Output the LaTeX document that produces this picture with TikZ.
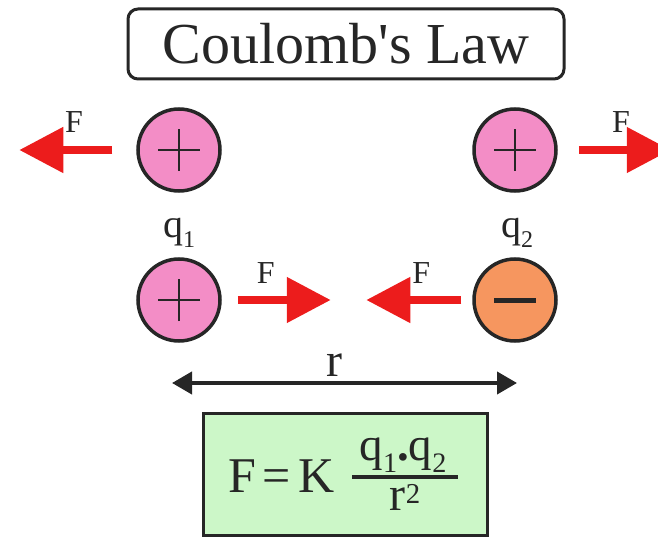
\documentclass[tikz,border=0pt]{standalone}
\usepackage{fontspec}
\setmainfont{Liberation Serif}
\newfontfamily\titlefont{Liberation Serif}[Ligatures=TeXOff]
\usepackage{graphicx}
\usepackage{xcolor}
\usepackage{tikz}
\usetikzlibrary{positioning,arrows.meta,calc}
\definecolor{chargepink}{HTML}{F38DC6}
\definecolor{chargeorange}{HTML}{F6965F}
\definecolor{forcered}{HTML}{EC1C1C}
\definecolor{formulagreen}{HTML}{CCF7C8}
\definecolor{inkgray}{HTML}{262626}
\newcommand{\lowsub}[1]{\raisebox{-0.26em}{\scalebox{0.6}{#1}}}
\newcommand{\lowsup}[1]{\raisebox{0.14em}{\scalebox{0.6}{#1}}}

\begin{document}
\begin{tikzpicture}[
    x=1pt, y=1pt,
    every node/.style={text=inkgray},
    charge/.style={circle, draw=inkgray, line width=3.5pt, minimum size=82pt, inner sep=0pt},
    poscharge/.style={charge, fill=chargepink,
        path picture={\draw[inkgray, line width=2pt]
            ([xshift=-21pt]path picture bounding box.center) -- ([xshift=21pt]path picture bounding box.center)
            ([yshift=-21pt]path picture bounding box.center) -- ([yshift=21pt]path picture bounding box.center);}},
    negcharge/.style={charge, fill=chargeorange,
        path picture={\draw[inkgray, line width=5pt]
            ([xshift=-21pt]path picture bounding box.center) -- ([xshift=21pt]path picture bounding box.center);}},
    force/.style={-{Triangle[length=44pt,width=44pt]}, line width=8pt, draw=forcered},
    flab/.style={font=\fontsize{32}{32}\selectfont, above=13pt, inner sep=0pt},
    qlab/.style={font=\fontsize{40}{40}\selectfont, inner sep=0pt, anchor=base},
    dist/.style={{Triangle[length=20pt,width=22pt]}-{Triangle[length=20pt,width=22pt]}, line width=4pt, draw=inkgray},
    titlebox/.style={draw=inkgray, line width=3pt, rounded corners=10pt, minimum width=436pt,
                     minimum height=70pt, font=\titlefont\fontsize{58}{58}\selectfont},
    formulabox/.style={draw=inkgray, line width=3.5pt, fill=formulagreen, minimum width=284pt, minimum height=122pt},
    ftext/.style={font=\fontsize{50}{50}\selectfont, inner sep=0pt},
    fracbar/.style={line width=4pt, draw=inkgray},
]
    \useasboundingbox (0,0) rectangle (658,539);

    % title
    \node[titlebox] (title) at (346,495) {Coulomb's Law};

    % charges
    \node[poscharge] (qtl) at (179,389) {};
    \node[poscharge] (qtr) at (515,389) {};
    \node[poscharge] (qbl) at (179,239) {};
    \node[negcharge] (qbr) at (515,239) {};

    \node[qlab] (q1) at (179,302) {q\lowsub{1}};
    \node[qlab] (q2) at (517,302) {q\lowsub{2}};

    % forces
    \coordinate[left=24pt of qtl] (ftl-s);
    \coordinate[left=93pt of ftl-s] (ftl-e);
    \coordinate[right=21pt of qtr] (ftr-s);
    \coordinate[right=92pt of ftr-s] (ftr-e);
    \coordinate[right=16pt of qbl] (fbl-s);
    \coordinate[right=93pt of fbl-s] (fbl-e);
    \coordinate[left=11pt of qbr] (fbr-s);
    \coordinate[left=95pt of fbr-s] (fbr-e);

    \draw[force] (ftl-s) -- node[flab, pos=0.41]{F} (ftl-e);
    \draw[force] (ftr-s) -- node[flab, pos=0.46]{F} (ftr-e);
    \draw[force] (fbl-s) -- node[flab, pos=0.30]{F} (fbl-e);
    \draw[force] (fbr-s) -- node[flab, pos=0.42]{F} (fbr-e);

    % distance
    \coordinate (rl) at (172,156);
    \coordinate (rr) at (517,156);
    \draw[dist] (rl) -- node[pos=0.47, above=5pt, inner sep=0pt, font=\fontsize{48}{48}\selectfont]{r} (rr);

    % formula
    \node[formulabox] (fbox) at (345.5,64.5) {};
    \node[ftext, anchor=base west] (feq) at (228,47) {F\hspace{0.14em}=\hspace{0.14em}K};
    \node[ftext, anchor=base, font=\fontsize{47}{47}\selectfont] (num) at (403,79) {q\lowsub{1}\textbf{.}q\lowsub{2}};
    \node[ftext, anchor=base, font=\fontsize{48}{48}\selectfont] (den) at (405,29) {r\lowsup{2}};
    \draw[fracbar] (352,62) -- (458,62);
\end{tikzpicture}
\end{document}
